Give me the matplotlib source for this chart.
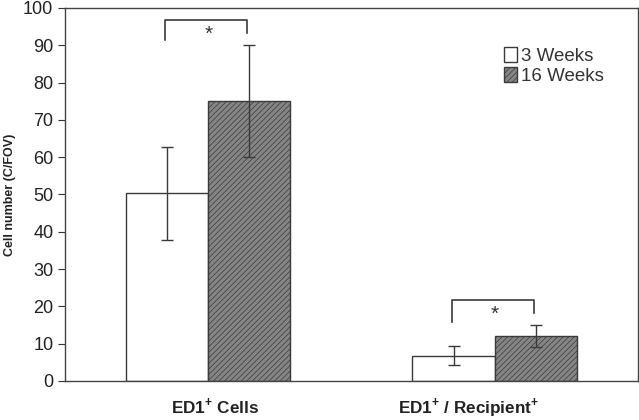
import matplotlib.pyplot as plt
import numpy as np

plt.rcParams['font.family'] = ['Liberation Sans', 'DejaVu Sans']
plt.rcParams['mathtext.fontset'] = 'custom'
plt.rcParams['mathtext.rm'] = 'Liberation Sans'
plt.rcParams['mathtext.bf'] = 'Liberation Sans:bold'
plt.rcParams['hatch.color'] = '#7a7a7a'
plt.rcParams['hatch.linewidth'] = 0.5

groups = [r'ED1$^{\mathbf{+}}$ Cells', r'ED1$^{\mathbf{+}}$ / Recipient$^{\mathbf{+}}$']
weeks3 = [50.3, 6.8]
weeks3_err = [12.5, 2.5]
weeks16 = [75.0, 12.0]
weeks16_err = [15.0, 3.0]

edge = '#3a3a3a'
x = np.arange(len(groups))
w = 0.287

fig, ax = plt.subplots(figsize=(6.39, 4.2), dpi=100)
fig.subplots_adjust(left=0.102, right=0.998, top=0.981, bottom=0.093)

ax.bar(x - w/2, weeks3, w, color='white', edgecolor=edge, linewidth=1.0,
       label='3 Weeks')
ax.bar(x + w/2, weeks16, w, color='#858585', edgecolor=edge, linewidth=1.0,
       hatch='//////', label='16 Weeks')
ax.errorbar(x - w/2, weeks3, yerr=weeks3_err, fmt='none', ecolor=edge,
            elinewidth=1.0, capsize=4, capthick=1.0)
ax.errorbar(x + w/2, weeks16, yerr=weeks16_err, fmt='none', ecolor=edge,
            elinewidth=1.0, capsize=4, capthick=1.0)

# significance brackets
brackets = [(0, 96.8, 91.4, 93.3), (1, 21.7, 15.8, 18.2)]
for gx, top, lleg, rleg in brackets:
    x0, x1 = gx - w/2 - 0.007, gx + w/2 - 0.007
    ax.plot([x0, x0, x1, x1], [lleg, top, top, rleg], color=edge, lw=1.2)
    ax.text(gx, top - 1.2, '*', ha='center', va='top', fontsize=15,
            color='#333333')

ax.set_xlim(-0.5, 1.5)
ax.set_ylim(0, 100)
ax.set_yticks(np.arange(0, 101, 10))
# category labels sit a little off the group centres in the original
ax.set_xticks(x + np.array([0.024, -0.091]))
ax.set_xticklabels(groups, fontsize=12.3, fontweight='bold', color='#222222')
ax.tick_params(axis='x', length=0, pad=11)
ax.tick_params(axis='y', length=5, labelsize=13, colors='#333333', width=0.8)
for lbl in ax.get_yticklabels():
    lbl.set_color('#222222')

ax.set_ylabel('Cell number (C/FOV)', fontsize=9, fontweight='bold',
              labelpad=5, color='#222222')
for s in ax.spines.values():
    s.set_color('#444444')
    s.set_linewidth(1.0)

ax.legend(loc='upper right', bbox_to_anchor=(0.971, 0.94), frameon=False,
          fontsize=13.5, handlelength=0.65, handleheight=0.85,
          handletextpad=0.25, labelspacing=0.1, labelcolor='#333333')

fig.savefig('out.png', dpi=100)
